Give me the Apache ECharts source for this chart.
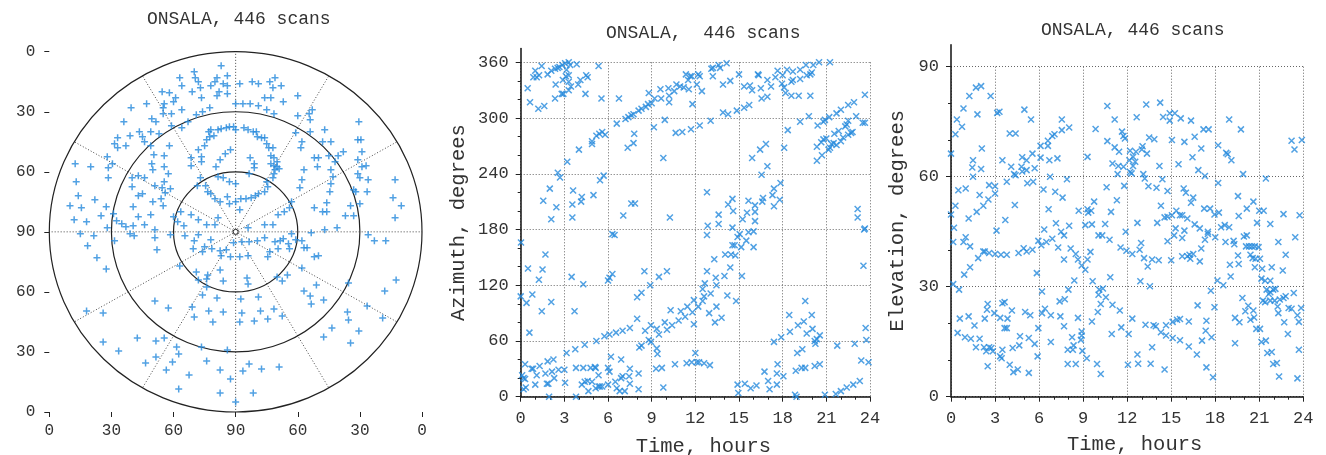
<!DOCTYPE html>
<html>
<head>
<meta charset="utf-8">
<title>ONSALA, 446 scans</title>
<script src="https://cdn.jsdelivr.net/npm/echarts@6/dist/echarts.min.js"></script>
<style>
html, body { margin: 0; padding: 0; background: #fff; }
#chart { width: 1326px; height: 455px; }
</style>
</head>
<body>
<div id="chart"></div>
<script>
// sky plot: [east, north] offsets in degrees of zenith distance
const skyPoints = [
  [-7,83],[-20,80],[-19.5,77],[-27,77],[-26,73],[-18,75],[-17,72],[-9,77],[-10,75],[-4,78],
  [-6,74],[-4,73],[-12,73],[-8,70],[-9,68],[-4,69],[2,74],[8,75],[11,74],[16.5,75],
  [19,77],[18,72],[22,73],[17,67],[14,67],[23,65],[30,68],[0,64],[3.5,64],[7,64],
  [11,63],[15,61],[18.5,59],[30,58],[35.5,59],[37,61],[36,56],[29,49.5],[36,50],[43,51],
  [42,45],[46,45],[59.5,55],[59,46],[60.5,46],[61,40],[59,36],[61,32.5],[63,33],[59,29],
  [60,27],[64,26],[63.5,20],[57,21],[58,20],[55.5,13],[60,14],[53,8],[57,8],[49,2],
  [77,26],[76,17],[80,13],[77,7],[45,38],[46,31],[48,35],[49.5,38],[52,40],[47,27.5],
  [46,24],[45.5,20],[38,37],[40,37],[39.5,32.5],[33,31],[32,26],[31,22],[44,14.5],[44,10],
  [38,12],[42,10],[43,1],[32,45],[31.5,42],[20,35],[20,32.5],[21,31.5],[19,31],[18,27],
  [-13,50],[-12,51],[-8.5,51],[-7,51.5],[-4.5,52],[-3,52.5],[-1,52.5],[0,51],[4,52],[6,51],
  [8.5,50],[10,50],[10.5,47.5],[12.5,47],[14,47],[15,44],[16,42],[18,42],[17,38],[18.5,37],
  [17,34],[18.5,33],[18.5,29],[15,25],[15.5,22.5],[14,20],[11,19],[9.5,18],[7.5,17],[5,16.5],
  [2.5,16.5],[0,15],[-3,14],[-4,17.5],[-7.5,15],[-10,16.5],[-12,19],[-13.5,20],[-14.5,23],[-17,27],
  [-16.5,35],[-16.5,37.5],[-18,41],[-15,43],[-14,46],[-12.5,47.5],[-10.5,48],
  [-7.5,36],[-5,39],[-2.5,41],[7,37],[9,34],[9,32],[6.5,29],[0,24],[-3,25],[-6,27],[-8.5,27.5],[-9.5,32.5],
  [-43,64],[-50.5,62],[-54,55],[-51,48],[-46.5,50],[-45,47.5],[-41,50],[-44,45],[-41,43],[-37,49],
  [-35,59],[-35,62],[-30,65],[-31,59],[-26,61],[-31,53],[-40.5,56.5],[-38.5,55],[-35.5,70],[-32,69.5],
  [-34.5,64],[-29,67],[-21,70],[-16.5,67],[-23,55],[-19,58.5],[-16,60],[-12.5,62],[-26,52],[-57,47],
  [-58.5,44],[-57,42],[-53,43],[-62,37.5],[-59.5,34],[-61.5,32],[-70,32.5],[-77.5,34],[-77,25],[-76,18],
  [-80,13],[-74.5,12],[-78,6],[-72,5],[-68,16],[-62.5,12.5],[-65,8],[-62,2],[-59,9],[-57.5,5.5],
  [-55,4],[-53,2.5],[-49.5,3],[-49.5,12.5],[-47,7.5],[-44,3.5],[-39,1],[-41,8.5],[-40,15],[-36,16.5],
  [-35,13],[-47,18],[-50,22.5],[-50,27],[-47,28],[-44,27],[-45,19],[-39,23],[-35.5,22],[-34,19.5],
  [-31.5,21.5],[-34.5,25],[-40.5,34],[-40,31],[-34.5,32.5],[-32.5,29],[-32,43],[-34.5,38],[-39.5,38.5],[-61.5,27],
  [-21.5,37],[-21.5,33],[-18.5,23],[-26.5,10],[-28,5],[-25,3],[-21.5,8.5],[-18,6],[-14,3.5],[-10,3.5],
  [-8.5,7],[-30,7.5],[2,11],[6,2],[14,3.5],[18,3.5],[23.5,10],[26,12],[27,15],[20.5,8.5],
  [-75,-1],[-68.5,-2],[-71.5,-7],[-67,-13],[-62.5,-18.5],[-58.5,-4.5],[-51,-1],[-49,-2],[-39,-3],[-38,-9],
  [-31.5,-1.5],[-24.5,-2],[-18,-1.5],[-20,-4.5],[-20.5,-8.5],[-15,-7.5],[-12,-4],[-11.5,-8.5],[-16,-10],[-7.5,-9.5],
  [-4.5,-9],[-7,-12],[-2.5,-12.5],[-1,-5.5],[2,-12.5],[3,-5],[6.5,-5],[6,-12],[10.5,-4.5],[14,-3],
  [16.5,-10],[19,-5],[21.5,-4.5],[23,-3.5],[25.5,-6],[26,-8.5],[29,-4],[32,-4.5],[27,-1],[33,-8],
  [34.5,-8],[38,-12.5],[40,-12],[36.5,-0.5],[15.5,-12.5],[20.5,-8.5],[-27,-17],[-19,-20],[-13.5,-21.5],[-14,-23.5],
  [-18,-24],[-7.5,-19],[-6,-24.5],[-14,-27.5],[-16,-31.5],[5.5,-23],[6,-26],[20,-22.5],[22.5,-24.5],[25,-21.5],
  [32,-18],[33,-29.5],[36,-32],[36.5,-36],[39,-26.5],[42.5,-34],[54.5,-25.5],[63.5,-37],[72,-29.5],[77.5,-24],
  [71,-43],[64,-1.5],[67,-4.5],[72.5,-4.5],[54,-40],[54.5,-44],[59.5,-49.5],[55.5,-55.5],[46.5,-48],[42.5,-52.5],
  [2.5,-33.5],[11,-32.5],[-9,-33],[-21,-37.5],[-13,-39.5],[-6,-40],[3,-40.5],[12,-39.5],[18.5,-38.5],[22.5,-42],
  [15.5,-43.5],[9,-44.5],[2,-45],[-11,-45],[-20,-42.5],[-39,-34.5],[-32.5,-38],[-72,-39.5],[-64,-40.5],[-64,-55],
  [-56.5,-59.5],[-47.5,-53],[-38.5,-54.5],[-34.5,-53],[-28.5,-57.5],[-27.5,-61],[-16.5,-57.5],[-4,-59],[-38.5,-62.5],[-43.5,-65.5],
  [-30.5,-65],[-33.5,-69],[-22.5,-71.5],[-14,-64.5],[-7.5,-69],[-2.5,-73.5],[3.5,-69.5],[6.5,-66],[12.5,-68.5],[21,-67.5],
  [-27.5,-78.5],[-7.5,-80.5],[8.5,-80.5],[0,-85]
];

// [time in hours, azimuth in degrees]
const azPoints = [
  [0.48,332],[0.64,317],[1.0,351],[0.87,344],[1.1,344],[1.26,346],[1.44,356],[1.21,310],[1.62,313],[1.85,347],
  [2.1,351],[2.36,353],[2.54,354],[2.66,355],[2.4,336],[2.36,321],[2.82,326],[2.93,326],[2.86,357],[3.05,359],
  [3.3,360],[3.4,357],[3.85,358],[3.15,352],[3.1,345],[3.3,346],[2.9,341],[3.3,339],[3.45,334],[3.3,330],
  [3.95,336],[4.1,341],[4.5,346],[4.6,344],[4.45,326],[5.35,356],[5.55,321],[6.75,321],
  [6.6,294],[7.2,299],[7.4,301],[7.6,303],[7.75,304],[8.1,308],[8.3,310],[8.6,312],[8.75,315],[8.8,327],
  [9.0,316],[9.2,321],[9.6,331],[9.65,321],[10.15,332],[10.2,324],[10.2,317],[10.55,329],[10.7,336],[10.95,334],
  [11.2,333],[11.35,347],[11.5,341],[11.65,345],[11.55,331],[11.75,345],[12.1,336],[12.2,347],[12.3,345],[12.45,329],
  [11.8,315],[13.1,353],[13.2,345],[13.2,354],[13.6,357],[13.7,354],[14.15,359],[13.9,336],[14.4,340],[15.0,347],
  [15.35,334],[15.75,335],[15.9,330],[16.3,347],[16.35,346],[16.5,332],[16.55,321],[16.95,323],[16.95,341],[17.2,334],
  [17.5,344],[17.65,351],[17.95,337],[18.1,333],[18.0,346],[18.3,352],[18.2,327],[18.6,324],[18.7,350],[18.6,339],
  [18.7,341],[19.1,324],[19.2,342],[19.2,352],[19.6,357],[19.65,346],[19.9,324],[19.9,347],[20.0,349],[20.1,357],
  [20.5,360],[21.25,360],
  [3.2,253],[4.0,266],[4.9,275],[4.9,272],[5.2,281],[5.4,283],[5.6,285],[5.8,282],[7.8,283],[7.75,273],
  [7.35,268],[9.15,290],[9.8,257],[9.9,298],[10.65,284],[11.1,285],[11.7,288],[12.3,292],[13.05,297],[13.9,306],
  [14.25,304],[14.85,308],[15.35,311],[15.7,314],[18.35,287],[19.2,296],[19.8,302],[20.4,292],[20.8,296],[20.9,298],
  [21.2,301],[21.7,305],[22.0,309],[22.5,314],[22.9,317],[23.05,302],[23.5,295],[23.65,295],[23.65,325],[15.9,257],
  [16.45,266],[16.85,272],[18.1,268],[16.95,248],[16.55,239],
  [20.35,254],[20.7,260],[20.35,269],[20.65,274],[20.8,277],[21.0,278],[21.15,266],[21.25,268],[21.35,272],[21.5,273],
  [21.55,283],[21.7,271],[21.85,286],[22.0,275],[22.15,279],[22.3,291],[22.4,293],[22.5,297],[22.5,282],[22.7,284],
  [22.8,285],
  [2.55,241],[2.7,236],[2.0,224],[1.55,211],[2.45,204],[2.1,191],[3.6,222],[3.55,207],[3.55,193],[4.2,215],
  [4.15,210],[5.0,217],[5.45,233],[5.7,238],[7.6,208],[7.85,208],[7.05,195],[10.25,193],[12.8,220],[12.85,184],
  [13.6,196],[13.6,186],[14.25,207],[14.55,213],[14.6,200],[14.55,182],[15.25,191],[15.65,211],[15.55,198],[16.1,189],
  [16.1,206],[16.1,199],[16.6,210],[16.65,214],[17.4,205],[17.3,217],[17.4,224],[17.8,212],[17.85,230],[23.15,202],
  [23.15,193],[23.65,181],
  [0.02,166],[0.5,138],[1.7,153],[1.5,137],[1.25,126],[0.0,108],[0.4,101],[0.8,110],[1.45,92],[2.1,102],
  [0.6,69],[3.5,129],[4.3,121],[3.7,92],[6.0,125],[6.1,128],[6.3,132],[6.3,175],[6.45,174],[8.5,135],
  [9.5,129],[10.05,135],[8.9,120],[8.0,107],[8.3,112],[8.0,84],[8.55,71],[8.95,77],[9.35,73],[9.5,67],
  [8.95,59],[9.9,80],[10.05,72],[10.3,93],[10.4,77],[10.85,82],[11.0,92],[11.3,86],[11.45,97],[11.8,91],
  [11.9,104],[11.9,78],[12.2,97],[12.5,103],[12.6,108],[12.5,116],[12.65,122],[12.8,135],[13.05,111],[12.95,90],
  [13.35,80],[13.45,97],[13.4,128],[13.45,120],[13.8,85],[14.0,130],[14.2,109],[14.4,139],[14.05,153],[14.45,153],
  [14.55,163],[14.7,163],[14.75,152],[14.8,103],[14.9,172],[15.05,175],[15.5,168],[15.2,130],[15.15,161],[15.65,177],
  [16.0,178],[16.0,161],[13.3,148],[12.8,174],
  [0.1,23],[0.2,20],[0.3,19],[0.2,8],[0.35,10],[0.3,35],[0.75,30],[0.85,30],[1.1,23],[1.0,13],
  [1.3,33],[1.7,25],[1.8,14],[1.9,14],[1.85,38],[2.15,27],[2.25,40],[2.3,20],[1.95,0],[2.6,29],
  [3.0,29],[3.05,15],[3.8,0],[3.8,31],[4.3,31],[4.2,13],[4.4,16],[4.6,17],[4.65,6],[4.8,31],
  [5.1,32],[5.15,31],[4.9,16],[5.15,9],[5.35,11],[5.45,11],[5.6,11],[5.35,23],[6.0,13],[6.0,31],
  [6.1,27],[6.2,43],[6.5,16],[6.6,9],[6.8,6],[6.9,20],[7.0,22],[6.9,40],[7.15,6],[7.5,14],
  [7.45,22],[7.5,30],[8.1,8],[8.1,25],
  [5.75,65],[6.1,67],[6.55,69],[7.0,71],[7.5,74],[5.2,60],[4.4,56],[3.75,51],[3.15,47],[8.8,61],
  [8.15,53],[8.3,55],[9.35,52],[9.4,46],[12.0,47],[9.3,30],[9.7,31],[9.8,10],[10.6,35],[11.4,36],
  [11.75,37],[12.1,37],[12.25,37],[12.6,36],[13.0,34],
  [14.9,13],[14.95,4],[15.4,14],[15.8,9],[16.2,12],[16.75,27],[17.0,17],[17.1,8],[17.6,13],[17.6,25],
  [17.65,35],[18.05,22],[17.4,59],[17.9,64],[18.45,88],[18.5,70],[19.05,77],[19.35,51],[19.0,47],[19.55,103],
  [19.45,81],[20.0,88],[20.05,73],[19.65,68],[20.2,60],[20.25,57],[20.35,62],[20.55,66],[18.9,28],[19.3,31],
  [19.55,31],[20.2,33],[20.55,35],[18.85,2],[18.95,0],[20.9,2],[21.65,3],[22.0,6],[22.4,10],[22.85,13],
  [23.3,17],[21.75,55],[22.95,57],[23.4,39],[23.9,37],[23.7,74],[23.75,61],[23.55,141],[23.6,180]
];

// [time in hours, elevation in degrees]
const elPoints = [
  [1.7,84.3],[2.05,84.7],[1.25,82],[2.7,82],[0.85,78.6],[0.4,75.6],[0.75,73.6],[0.3,71.6],[1.8,77],[3.15,77.4],
  [3.3,77.7],[5.0,78.3],[5.45,75.6],[4.0,71.8],[4.4,71.8],[7.55,75.6],[7.55,72.7],[8.05,73.4],[0,66.3],[2.1,67.7],
  [1.5,64.5],[1.45,62.5],[2.05,62.1],[1.5,60],[3.5,64.5],[4.1,62.7],[4.3,60.7],[4.4,60.4],[4.8,62.7],[4.85,65.3],
  [5.15,64.5],[4.85,61.4],[5.15,61.8],[5.55,66.3],[5.7,62.3],[6.1,68.4],[6.6,68.4],[6.6,69.8],[6.9,71.1],[7.05,71.6],
  [6.1,65.2],[6.7,64.5],[7.25,65],[6.75,60],[7.9,59.3],[9.3,65.4],[9.85,73],[10.65,79.3],[11.15,75.6],[10.65,69.7],
  [11.15,68],[11.45,66.8],[11.65,72.3],[11.75,71.1],[11.85,70.4],[12.65,76.2],[13.3,79.7],[14.25,80.2],[14.45,76.3],[14.9,77.3],
  [15.25,77.3],[14.9,75.3],[15.65,75.9],[16.35,75.3],[15.05,70],[15.9,69.5],[16.6,70.9],[17.2,72.9],[17.55,72.9],[17.05,67.7],
  [16.45,65.3],[16.85,61.8],[17.3,60.2],[18.2,68.6],[18.75,66.5],[18.85,66.1],[19.1,64.5],[18.95,75.6],[19.75,72.9],[19.9,60.7],
  [23.2,69.8],[23.9,70],[23.4,67.4],
  [12.2,67.1],[12.6,66.8],[12.4,65.4],[13.05,68.3],[13.0,67.4],[13.35,66.3],[13.5,70.7],[13.85,70.2],[12.15,64.5],[12.55,64.1],
  [12.4,62.9],[12.2,61.3],[12.3,60.9],[11.35,60.7],[11.0,63.6],[11.4,62.9],[11.75,62.7],[13.1,60.7],[13.2,59.5],[14.2,62.9],
  [15.5,63.4],
  [9.55,50.7],[10.6,57.1],[10.9,50.4],[11.3,53.6],[11.8,57.5],[12.7,47.4],[13.45,57.4],[14.0,57],[14.4,59.3],[14.75,56.1],
  [14.3,52.1],[15.85,56.8],[16.0,55.6],[16.5,54.3],[16.35,52.9],[17.25,51.3],[17.65,51.3],[17.95,49.7],[18.2,58.3],[18.25,50.2],
  [19.55,54.7],[19.6,49.3],[20.15,51.3],[20.6,53.2],[21.0,50.7],[21.3,50.7],[20.85,47.4],[21.75,47.1],[22.65,49.8],[23.75,49.5],
  [21.45,59.5],
  [2.6,57.7],[3.0,57.4],[3.8,58.6],[5.2,58.2],[5.6,58.6],[6.3,56.5],[7.1,55.9],[7.6,54.3],[0.5,56.3],[1.0,56.8],
  [0.3,52.1],[0,49.7],[1.2,48.6],[1.75,50.4],[1.95,55],[2.2,52.1],[2.55,53.8],[3.0,55.4],[4.35,52.3],[3.7,48.2],
  [3.1,45.3],[0.2,46.1],[6.35,45.6],[6.65,51.1],[7.15,47.3],[7.5,45],[8.05,46.6],[8.7,50.7],[9.3,51.1],[9.35,50.2],
  [9.75,53.2],[9.15,46.8],[9.6,47],[10.5,47.1],[11.9,45],[14.05,47.4],[14.55,48.9],[14.75,49.1],[15.05,49.5],[15.35,50.7],
  [15.6,49.5],[15.75,49.5],[16.1,48.6],[16.6,47],[16.95,45.9],[17.5,45],[18.4,46.2],[18.65,46.8],[18.95,46.2],[15.3,45.9],
  [15.9,45.3],
  [0.15,42.2],[0.85,42.2],[1.0,43.5],[1.3,41],[0.15,30.7],[0.55,29.2],[0.9,33.3],[1.3,35.3],[1.85,37.8],[2.2,39.6],
  [2.3,39.6],[2.6,39.2],[3.0,38.9],[3.4,38.7],[3.8,38.7],[4.6,39.2],[4.95,40.5],[5.15,39.6],[5.55,40.1],[5.95,42.5],
  [6.15,41.3],[6.5,42.2],[6.9,43.1],[7.3,40.7],[7.7,44],[7.7,37.4],[8.15,40.4],[8.5,38.9],[8.65,37.4],[8.9,35.8],
  [9.15,34.6],[9.3,37.4],[9.5,39.5],[8.4,31.7],[9.65,31.5],[10.05,44],[10.3,44],[10.8,42.8],[10.85,32.6],[11.55,40.7],
  [11.95,39.8],[12.35,38.9],[12.85,40.1],[12.95,41.9],[12.9,31.5],[13.15,37.8],[13.4,35.5],[13.7,37.4],[14.15,37.2],[13.55,30.1],
  [15.0,37.2],[14.75,42.4],[15.2,44],[15.75,43.3],[15.75,38.3],[16.1,38.3],[16.25,38.7],[16.5,38.9],[16.3,37.6],[16.95,36.9],
  [17.05,40.4],[17.3,42.8],[17.5,44.4],[18.0,43.5],[18.15,31.7],[18.55,30.4],[18.7,42.2],[19.25,42.5],[19.3,41.6],[19.55,38.5],
  [19.6,36.2],[19.05,32.8],[19.0,36],[19.95,43.7],[20.15,44],[20.3,41],[20.1,41],[20.5,41],[20.7,41],[20.95,40.8],
  [20.4,38.7],[20.55,37.8],[20.75,37.6],[21.05,37.6],[20.7,35.3],[21.2,34.9],[21.85,35.3],[22.3,42.2],[22.8,38.7],[22.6,34.4],
  [23.45,43.5],[21.15,32.2],[21.4,31.6],[21.75,31.6],
  [17.7,28.9],[17.95,24.4],[16.8,24.9],[17.4,20.7],[17.35,18],[17.1,15.3],[17.75,16.2],[17.4,8],[17.85,5.3],[16.75,11.5],
  [16.2,13.7],[15.6,15.4],[15.1,16],[14.65,16.7],[14.3,17.6],[13.95,19.2],[13.8,19.5],[13.25,19.6],[13.7,13.5],[14.65,19.5],
  [15.1,20.4],[15.4,21],[15.6,21.2],[16.2,20.5],[14.55,7.4],[13.6,9],[12.75,9],[12.7,11.5],[12.05,8.7],[12.1,17.1],
  [12.35,21.3],[11.6,18.9],[11.5,23.5],[11.0,25.1],[10.55,27.1],[10.05,27.8],[10.35,29.5],[10.1,29.2],[10.2,25.3],[10.0,23.1],
  [9.6,20.5],[10.95,17.1],[10.2,6.2],[9.95,8.9],[9.25,10.5],[8.95,12.5],[8.85,15.5],[8.9,16.7],[8.9,17.8],[8.65,21.5],
  [8.3,12.8],[8.35,14],[8.25,16.2],[7.95,12.8],[7.7,19.2],[7.45,21.9],[7.75,26.6],[7.4,26],[8.0,29.2],[8.5,8.9],
  [7.95,8.9],[6.8,22.2],[6.4,24],[6.2,22.8],[6.2,28.7],[5.95,18.7],[6.8,14.9],[5.9,11],[5.7,14.4],[5.85,33.7],
  [5.4,22.2],[5.05,23.1],[5.3,16],[4.65,14],[4.2,13.3],[4.7,16.5],[4.15,23.5],[3.85,21.3],[3.65,25.8],[3.5,25.5],
  [3.8,18.7],[3.65,18.7],[3.35,21.5],[3.35,11],[3.45,10.5],[3.5,12.8],[4.0,8.7],[4.25,6.7],[4.55,7.4],[5.3,6.5],
  [2.5,8.3],[2.45,23.7],[2.5,25.3],[2.3,21.3],[2.95,22.8],[2.25,13.5],[2.4,12.4],[2.6,13.5],[2.75,13.3],[2.85,12.4],
  [1.95,15.8],[1.7,13.5],[1.35,15.8],[0.95,16.2],[0.45,17.4],[0.6,21.3],[1.2,21.9],[1.6,19.4],
  [19.35,21.5],[19.65,20.3],[19.85,26.9],[20.25,24.8],[20.05,23.3],[20.4,21],[20.65,21.6],[20.8,18.5],[21.05,18.5],[20.6,23.5],
  [19.35,14.6],[21.4,25.8],[21.5,29.2],[21.75,28.5],[21.95,29.2],[22.1,29.4],[22.05,26.2],[21.75,26.2],[21.25,26.2],[21.65,28],
  [22.25,24.6],[22.3,22.8],[22.4,26.5],[22.65,26.9],[22.8,27.4],[23.0,24.2],[23.2,24],[23.35,28.3],[22.7,20.3],[22.95,17.1],
  [23.6,22.2],[23.7,20.4],[23.85,24.2],[21.15,14.9],[21.45,15.3],[21.55,11.9],[21.85,12.2],[21.95,8.9],[22.2,9.2],[22.35,5.5],
  [23.7,12.8],[23.6,5]
];

// tick labels of the sky plot frame: offset -> elevation
const skyTickValues = [-90, -60, -30, 0, 30, 60, 90];
const skyTickLabels = ['0', '30', '60', '90', '60', '30', '0'];
const skyRings = [30, 60, 90];
const skySpokes = [0, 30, 60, 90, 120, 150, 180, 210, 240, 270, 300, 330];

const FONT = '"Liberation Mono", "DejaVu Sans Mono", monospace';
const TXT = '#333';
const BLUE = '#2589dc';
const PLUS = 'path://M0,5L10,5M5,0L5,10';
const CROSS = 'path://M0,0L10,10M10,0L0,10';

const chart = echarts.init(document.getElementById('chart'));

function tickLabel(size, margin) {
    return { color: TXT, fontFamily: FONT, fontSize: size, margin: margin };
}

const dotted = { show: true, lineStyle: { color: '#666', width: 1, type: [1, 2] } };
const blackLine = { show: true, onZero: false, lineStyle: { color: '#111', width: 1.5 } };
const tick = { show: true, length: 5, lineStyle: { color: '#222', width: 1 } };
const minor = { show: true, splitNumber: 3, length: 3, lineStyle: { color: '#222', width: 1 } };
const axisName = { color: TXT, fontFamily: FONT, fontSize: 20.5 };

function titleAt(text, left, top) {
    return {
        text: text, left: left, top: top, padding: 0,
        textStyle: { color: TXT, fontFamily: FONT, fontSize: 18, fontWeight: 'normal' }
    };
}

function gridAt(left, top, width, height) {
    return { left: left, top: top, width: width, height: height, containLabel: false, outerBoundsMode: 'none' };
}

chart.setOption({
    animation: false,
    title: [
        titleAt('ONSALA, 446 scans', 147, 10),
        titleAt('ONSALA,  446 scans', 606, 24),
        titleAt('ONSALA, 446 scans', 1041, 21)
    ],
    grid: [
        gridAt(49.3, 51.7, 372.7, 360.3),
        gridAt(520.7, 62.3, 349.3, 334.4),
        gridAt(951, 66.7, 352.3, 330),
        gridAt(520.7, 48.4, 349.3, 348.3),
        gridAt(951, 44.7, 352.3, 352)
    ],
    xAxis: [
        {
            gridIndex: 0, type: 'value', min: -90, max: 90, interval: 30,
            axisLine: { show: false, onZero: false }, axisTick: tick, splitLine: { show: false },
            axisLabel: Object.assign(tickLabel(16, 11), {
                formatter: v => skyTickLabels[skyTickValues.indexOf(v)] || ''
            })
        },
        {
            gridIndex: 1, type: 'value', min: 0, max: 24, interval: 3,
            axisLine: blackLine, axisTick: tick, minorTick: minor, splitLine: dotted,
            axisLabel: tickLabel(17, 13),
            name: 'Time, hours', nameLocation: 'middle', nameGap: 39,
            nameTextStyle: Object.assign({ padding: [0, 0, 0, 16] }, axisName)
        },
        {
            gridIndex: 2, type: 'value', min: 0, max: 24, interval: 3,
            axisLine: blackLine, axisTick: tick, minorTick: minor, splitLine: dotted,
            axisLabel: tickLabel(17, 13),
            name: 'Time, hours', nameLocation: 'middle', nameGap: 37,
            nameTextStyle: Object.assign({ padding: [0, 0, 0, 15] }, axisName)
        },
        { gridIndex: 3, type: 'value', min: 0, max: 24, show: false },
        { gridIndex: 4, type: 'value', min: 0, max: 24, show: false }
    ],
    yAxis: [
        {
            gridIndex: 0, type: 'value', min: -90, max: 90, interval: 30,
            axisLine: { show: false, onZero: false }, axisTick: tick, splitLine: { show: false },
            axisLabel: Object.assign(tickLabel(16, 14), {
                formatter: v => skyTickLabels[skyTickValues.indexOf(v)] || ''
            })
        },
        {
            gridIndex: 1, type: 'value', min: 0, max: 360, interval: 60,
            axisLine: { show: false, onZero: false }, axisTick: tick, minorTick: minor, splitLine: dotted,
            axisLabel: tickLabel(17, 12)
        },
        {
            gridIndex: 2, type: 'value', min: 0, max: 90, interval: 30,
            axisLine: { show: false, onZero: false }, axisTick: tick, minorTick: minor, splitLine: dotted,
            axisLabel: tickLabel(17, 12)
        },
        {
            gridIndex: 3, type: 'value', min: 0, max: 375,
            axisLine: blackLine, axisTick: { show: false }, axisLabel: { show: false }, splitLine: { show: false },
            name: 'Azimuth, degrees', nameLocation: 'middle', nameGap: 52, nameTextStyle: axisName
        },
        {
            gridIndex: 4, type: 'value', min: 0, max: 96,
            axisLine: blackLine, axisTick: { show: false }, axisLabel: { show: false }, splitLine: { show: false },
            name: 'Elevation, degrees', nameLocation: 'middle', nameGap: 43, nameTextStyle: axisName
        }
    ],
    series: [
        {
            type: 'scatter', xAxisIndex: 0, yAxisIndex: 0, data: skyPoints,
            symbol: PLUS, symbolSize: 7, z: 3,
            itemStyle: { color: BLUE, borderColor: BLUE, borderWidth: 1.5 }
        },
        {
            type: 'scatter', xAxisIndex: 1, yAxisIndex: 1, data: azPoints,
            symbol: CROSS, symbolSize: 6, z: 3,
            itemStyle: { color: BLUE, borderColor: BLUE, borderWidth: 1.5 }
        },
        {
            type: 'scatter', xAxisIndex: 2, yAxisIndex: 2, data: elPoints,
            symbol: CROSS, symbolSize: 6, z: 3,
            itemStyle: { color: BLUE, borderColor: BLUE, borderWidth: 1.5 }
        }
    ]
});

// rings and spokes of the sky plot, placed through the grid's own scales
function drawSkyGrid() {
    const px = p => chart.convertToPixel({ gridIndex: 0 }, p);
    const c = px([0, 0]);
    const els = [];
    skySpokes.forEach(a => {
        const rad = a * Math.PI / 180;
        const e = px([90 * Math.sin(rad), 90 * Math.cos(rad)]);
        els.push({
            type: 'line', z: 0, silent: true,
            shape: { x1: c[0], y1: c[1], x2: e[0], y2: e[1] },
            style: { stroke: '#444', lineWidth: 1, lineDash: [1, 2] }
        });
    });
    skyRings.forEach(r => {
        const ex = px([r, 0]);
        const ey = px([0, r]);
        els.push({
            type: 'ellipse', z: 1, silent: true,
            shape: { cx: c[0], cy: c[1], rx: ex[0] - c[0], ry: c[1] - ey[1] },
            style: { fill: 'none', stroke: '#222', lineWidth: 1.2 }
        });
    });
    els.push({
        type: 'circle', z: 1, silent: true,
        shape: { cx: c[0], cy: c[1], r: 2.5 },
        style: { fill: '#fff', stroke: '#222', lineWidth: 1 }
    });
    chart.setOption({ graphic: els });
}

drawSkyGrid();
</script>
</body>
</html>
